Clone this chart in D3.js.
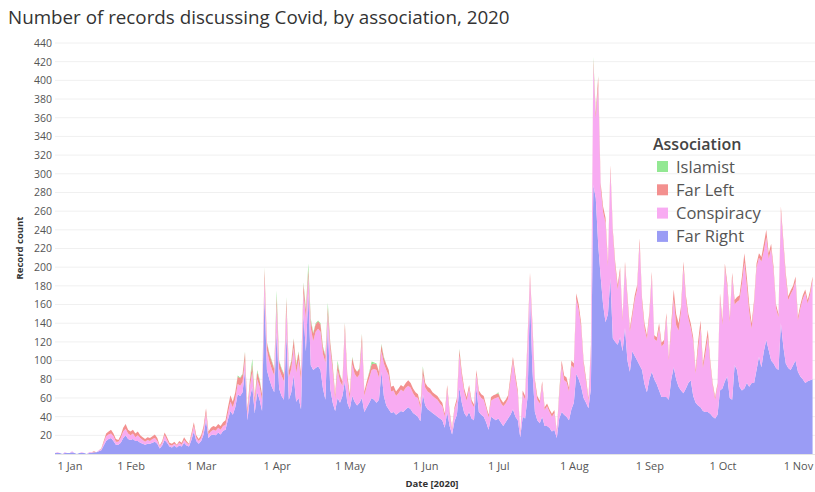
<!DOCTYPE html>
<html>
<head>
<meta charset="utf-8">
<script src="https://cdn.jsdelivr.net/npm/d3@7"></script>
<style>
  body { margin: 0; background: #fff; }
  svg { display: block; font-family: "Open Sans", sans-serif; }
</style>
</head>
<body>
<svg id="chart" width="815" height="492"></svg>
<script>
// daily record counts from 1 Jan 2020, one value per day, grouped by month
const startDate = new Date(2020, 0, 1);
const endDate = new Date(2020, 10, 8);

const farRight = [
  1,1,1,0,1,1,1,2,1,0,1,1,1,0,1,1,2,2,3,4,9,14,16,17,14,10,10,12,17,20,16,
  15,16,14,14,12,11,10,11,11,12,13,11,6,9,15,12,8,7,9,7,9,8,12,9,8,15,24,14,11,
  14,21,36,17,20,21,20,23,21,25,26,37,46,42,50,64,62,66,90,36,60,72,44,66,58,46,170,90,80,72,66,
  130,70,62,58,128,58,66,84,56,60,48,150,110,172,95,90,92,94,90,70,58,138,70,55,46,60,55,62,78,55,
  48,62,56,52,55,60,45,50,55,60,58,55,58,88,62,52,48,44,45,42,44,46,45,48,50,48,44,42,40,35,64,
  52,48,46,44,42,40,38,36,28,45,30,21,35,42,71,55,44,40,45,38,36,71,45,42,40,34,26,40,38,36,
  38,34,30,34,38,42,48,40,36,18,40,38,61,170,90,45,36,33,40,30,30,28,24,26,17,38,45,42,40,36,48,
  55,86,80,72,60,55,49,70,288,274,224,190,160,141,150,188,124,120,117,125,110,135,100,88,110,105,100,95,90,75,66,
  80,88,80,75,68,61,61,61,58,80,93,80,72,68,65,70,76,79,62,55,52,50,46,45,45,43,40,38,42,68,
  70,78,83,60,58,95,90,72,68,70,76,72,76,76,90,104,93,110,122,111,100,97,92,90,140,115,97,92,90,95,100,
  88,83,80,76,78,79,80
];

const conspiracy = [
  0,1,0,0,1,0,0,1,0,0,0,1,0,0,1,1,0,0,1,1,3,5,5,5,5,3,3,5,7,7,6,
  5,6,4,6,5,4,3,4,3,4,4,3,2,3,5,3,2,2,2,2,3,2,3,3,2,4,6,3,3,
  3,5,8,4,4,5,5,5,5,5,5,7,10,8,9,11,11,11,11,7,12,16,10,14,14,12,18,21,19,19,18,
  29,21,22,20,28,24,25,30,31,41,31,22,35,18,40,31,39,40,41,37,40,11,42,34,13,30,23,11,54,24,
  11,34,30,30,30,60,17,23,26,30,33,35,24,22,35,38,36,23,23,20,21,23,22,23,23,23,21,19,20,14,21,
  19,19,19,18,18,18,16,15,12,24,13,5,12,14,35,28,22,17,25,17,14,14,19,18,18,15,13,17,21,24,
  23,21,21,20,21,37,51,40,28,5,24,20,58,18,44,31,22,21,34,17,21,17,16,18,6,25,50,37,37,31,47,
  37,80,74,63,36,22,8,43,128,85,170,94,99,106,51,115,111,80,59,70,32,66,65,43,37,60,76,130,72,60,57,
  67,102,43,46,67,54,57,85,42,54,73,58,60,84,135,95,69,56,58,31,60,85,46,62,80,53,33,20,31,99,
  68,121,95,81,131,65,73,93,114,135,104,80,58,84,109,106,113,107,110,98,120,98,64,56,119,109,92,73,81,81,85,
  55,73,86,96,83,92,106
];

const farLeft = [
  0,0,0,0,0,0,0,0,0,0,0,0,0,0,0,0,1,0,0,1,2,3,3,4,3,3,2,3,4,5,4,
  4,4,4,4,3,3,3,3,3,3,4,3,1,2,3,3,2,2,2,1,2,2,3,2,1,3,4,3,2,
  3,4,5,3,4,4,4,4,4,4,5,6,7,6,7,8,8,8,8,5,7,8,6,8,7,6,10,8,8,8,7,
  10,8,7,7,10,7,8,9,8,8,7,10,9,8,8,8,8,8,8,7,7,8,7,6,5,7,6,5,8,6,
  5,7,6,6,6,8,5,5,6,6,6,6,6,7,6,6,6,5,5,5,5,5,5,5,6,5,5,5,4,4,7,
  5,5,5,4,4,4,4,4,3,5,3,2,3,4,6,5,4,4,4,3,3,5,4,4,4,3,3,4,4,4,
  4,4,4,4,4,5,5,5,4,2,4,4,6,6,6,4,4,3,4,3,3,3,3,3,2,4,5,5,5,4,5,
  5,6,6,5,4,4,3,4,6,6,10,6,6,6,5,6,5,5,5,5,4,5,5,4,5,5,5,6,5,5,4,
  5,5,4,4,5,4,4,5,4,6,10,12,8,6,6,5,5,5,5,4,8,8,5,8,8,4,3,3,3,5,
  5,5,5,4,5,5,5,5,8,10,10,8,6,5,5,5,5,8,8,6,5,5,4,4,6,5,5,4,4,4,5,
  4,4,4,4,4,4,4
];

const islamist = [
  0,0,0,0,0,0,0,0,0,0,0,0,0,0,0,0,0,0,0,0,0,0,0,0,0,0,0,0,0,0,0,
  0,0,0,0,0,0,0,0,0,0,0,0,0,0,0,0,0,0,0,0,0,0,0,0,0,0,0,0,0,
  0,0,0,0,0,0,0,0,0,0,0,0,0,0,0,1,1,1,1,0,1,6,0,2,1,0,2,1,1,1,1,
  6,1,1,1,2,1,1,1,1,1,0,2,2,6,2,1,1,1,1,1,1,5,1,1,0,3,1,0,1,0,
  0,1,0,0,1,1,0,0,1,3,1,1,0,1,1,0,0,0,0,0,0,0,0,0,0,0,0,0,0,0,2,
  0,0,0,0,0,0,0,0,0,0,0,0,0,0,1,0,0,0,0,0,0,0,0,0,0,0,0,0,0,0,
  1,0,0,0,0,0,0,0,0,0,0,0,0,0,0,0,0,0,0,0,0,0,0,0,0,1,0,0,0,0,0,
  0,0,0,0,0,0,0,0,3,1,1,0,0,0,0,0,0,0,0,0,0,0,0,0,0,0,0,0,0,0,0,
  0,0,0,0,0,0,0,0,0,0,0,0,0,0,0,0,0,0,0,0,0,0,0,0,0,0,0,0,0,0,
  0,0,0,0,0,0,0,0,0,0,0,0,0,0,0,0,0,0,0,0,0,0,0,0,0,0,0,0,0,0,0,
  0,0,0,0,0,0,0
];

const seriesKeys = ['farRight', 'conspiracy', 'farLeft', 'islamist'];
const seriesNames = { farRight: 'Far Right', conspiracy: 'Conspiracy', farLeft: 'Far Left', islamist: 'Islamist' };
const seriesColors = { farRight: '#9a9cf5', conspiracy: '#f8abf2', farLeft: '#f3908f', islamist: '#93e893' };
const legendOrder = ['islamist', 'farLeft', 'conspiracy', 'farRight'];
const yTicks = d3.range(20, 441, 20);

const rows = farRight.map((v, i) => ({
  date: d3.timeDay.offset(startDate, i),
  farRight: v,
  conspiracy: conspiracy[i],
  farLeft: farLeft[i],
  islamist: islamist[i]
}));

const svg = d3.select('#chart');
const margin = { top: 43, right: 0, bottom: 38, left: 55 };
const width = 815, height = 492;

const x = d3.scaleTime()
  .domain([startDate, endDate])
  .range([margin.left, width - margin.right]);

const y = d3.scaleLinear()
  .domain([0, 440])
  .range([height - margin.bottom, margin.top]);

// gridlines
svg.append('g')
  .selectAll('line')
  .data(yTicks)
  .enter()
  .append('line')
  .attr('x1', margin.left)
  .attr('x2', width)
  .attr('y1', d => y(d))
  .attr('y2', d => y(d))
  .attr('stroke', '#f0f0f0')
  .attr('stroke-width', 1);

const stacked = d3.stack().keys(seriesKeys)(rows);

const area = d3.area()
  .x(d => x(d.data.date))
  .y0(d => y(d[0]))
  .y1(d => y(d[1]));

svg.append('g')
  .selectAll('path')
  .data(stacked)
  .enter()
  .append('path')
  .attr('d', area)
  .attr('fill', d => seriesColors[d.key]);

// baseline
svg.append('line')
  .attr('x1', margin.left)
  .attr('x2', width)
  .attr('y1', y(0) + 0.5)
  .attr('y2', y(0) + 0.5)
  .attr('stroke', '#e4e4e4');

// y axis labels
const yAxis = d3.axisLeft(y).tickValues(yTicks).tickSize(0).tickPadding(3);
svg.append('g')
  .attr('transform', `translate(${margin.left},0)`)
  .call(yAxis)
  .call(g => g.select('.domain').remove())
  .call(g => g.selectAll('text')
    .attr('font-size', 10.5)
    .attr('fill', '#555')
    .attr('font-family', '"Open Sans", sans-serif'));

// x axis labels
const xAxis = d3.axisBottom(x)
  .ticks(d3.timeMonth.every(1))
  .tickFormat(d3.timeFormat('%-d %b'))
  .tickSize(0)
  .tickPadding(8);
svg.append('g')
  .attr('transform', `translate(0,${y(0)})`)
  .call(xAxis)
  .call(g => g.select('.domain').remove())
  .call(g => g.selectAll('text')
    .attr('font-size', 11)
    .attr('fill', '#555')
    .attr('font-family', '"Open Sans", sans-serif'))
  .call(g => g.selectAll('.tick')
    .filter(d => +d === +startDate)
    .select('text')
    .attr('text-anchor', 'start')
    .attr('dx', 2));

// axis titles
svg.append('text')
  .attr('x', 432)
  .attr('y', 487)
  .attr('text-anchor', 'middle')
  .attr('font-size', 9.5)
  .attr('font-weight', 'bold')
  .attr('fill', '#333')
  .text('Date [2020]');

svg.append('text')
  .attr('transform', 'translate(23,248) rotate(-90)')
  .attr('text-anchor', 'middle')
  .attr('font-size', 9.5)
  .attr('font-weight', 'bold')
  .attr('fill', '#333')
  .text('Record count');

// title
svg.append('text')
  .attr('x', 8)
  .attr('y', 24)
  .attr('font-size', 18.8)
  .attr('fill', '#333')
  .text('Number of records discussing Covid, by association, 2020');

// legend
const legend = svg.append('g').attr('transform', 'translate(653,0)');
legend.append('text')
  .attr('x', 0)
  .attr('y', 150)
  .attr('font-size', 16)
  .attr('font-weight', 600)
  .attr('fill', '#444')
  .text('Association');

const items = legend.selectAll('g.item')
  .data(legendOrder)
  .enter()
  .append('g')
  .attr('class', 'item')
  .attr('transform', (d, i) => `translate(0,${161 + i * 23.3})`);

items.append('rect')
  .attr('x', 4)
  .attr('y', 0)
  .attr('width', 11)
  .attr('height', 11)
  .attr('fill', d => seriesColors[d]);

items.append('text')
  .attr('x', 23)
  .attr('y', 11.5)
  .attr('font-size', 16.5)
  .attr('fill', '#555')
  .text(d => seriesNames[d]);
</script>
</body>
</html>
